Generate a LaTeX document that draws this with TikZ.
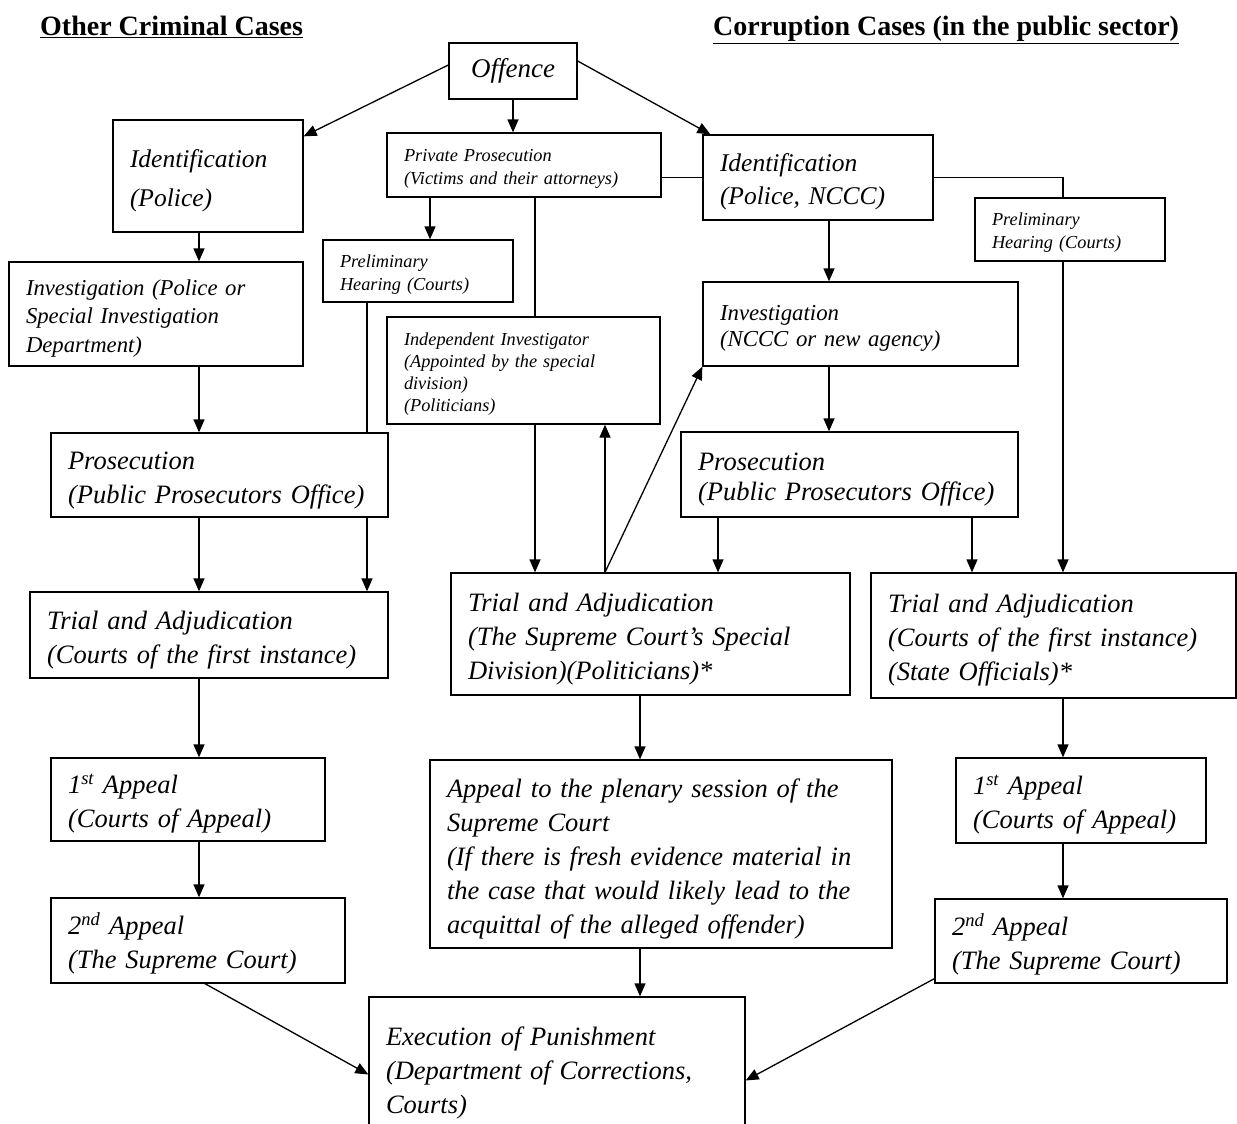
\documentclass[tikz,border=0pt]{standalone}
\usepackage{fontspec}
\setmainfont{Liberation Serif}
\usetikzlibrary{arrows.meta}
\begin{document}
\begin{tikzpicture}[x=1pt,y=-1pt,
  frame/.style={draw, line width=1.3pt, inner ysep=0pt},
  box/.style={frame, inner xsep=17pt, align=left, execute at begin node={\rule{0pt}{1.05em}}},
  arr/.style={line width=1.3pt, -{Triangle[length=13pt,width=11pt]}},
  ln/.style={line width=1.3pt},
  big/.style={font=\fontsize{26.5}{34}\selectfont\itshape},
  small/.style={font=\fontsize{18.3}{23}\selectfont\itshape},
  head/.style={font=\fontsize{28}{30}\selectfont\bfseries, anchor=base west, inner sep=0pt}
]
\useasboundingbox (0,0) rectangle (1237,1124);
\clip (0,0) rectangle (1237,1124);

% headers
\node[head] (h1) at (40,36) {\underline{Other Criminal Cases}};
\node[head] (h2) at (713,36) {\underline{Corruption Cases (in the public sector)}};

% top
\node[frame,font=\fontsize{27}{34}\selectfont\itshape,minimum width=128,minimum height=56,align=center,inner xsep=0pt] (off) at (513,71) {Offence};

% left column
\node[box,font=\fontsize{25.5}{39}\selectfont\itshape,minimum width=190,minimum height=112,text width=156] (idp) at (208,176) {Identification\\(Police)};
\node[box,font=\fontsize{22.7}{28.5}\selectfont\itshape,minimum width=294,minimum height=104,text width=260] (inv) at (156,314) {Investigation (Police or\\Special Investigation\\Department)};
\node[box,big,minimum width=337,minimum height=84,text width=303] (prl) at (219.5,475) {Prosecution\\(Public Prosecutors Office)};
\node[box,big,minimum width=358,minimum height=86,text width=324] (trl) at (209,635) {Trial and Adjudication\\(Courts of the first instance)};
\node[box,big,minimum width=274,minimum height=83,text width=240] (a1l) at (188,799.5) {1\textsuperscript{st} Appeal\\(Courts of Appeal)};
\node[box,big,minimum width=294,minimum height=85,text width=260] (a2l) at (198,940.5) {2\textsuperscript{nd} Appeal\\(The Supreme Court)};

% middle column
\node[box,small,minimum width=274,minimum height=64,text width=240] (pp) at (524,165) {Private Prosecution\\(Victims and their attorneys)};
\node[box,small,minimum width=190,minimum height=62,text width=156] (ph1) at (418,271) {Preliminary\\Hearing (Courts)};
\node[box,font=\fontsize{18.3}{22}\selectfont\itshape,minimum width=273,minimum height=107,text width=239] (ii) at (523.5,370.5) {Independent Investigator\\(Appointed by the special\\division)\\(Politicians)};
\node[box,big,minimum width=399,minimum height=122,text width=365] (trm) at (650.5,634) {Trial and Adjudication\\(The Supreme Court’s Special\\Division)(Politicians)*};
\node[box,big,minimum width=462,minimum height=188,text width=428] (apm) at (661,854) {Appeal to the plenary session of the\\Supreme Court\\(If there is fresh evidence material in\\the case that would likely lead to the\\acquittal of the alleged offender)};
\node[box,big,minimum width=376,minimum height=143,text width=342] (ex) at (557,1068.5) {Execution of Punishment\\(Department of Corrections,\\Courts)};

% right column
\node[box,font=\fontsize{25.5}{33}\selectfont\itshape,minimum width=230,minimum height=85,text width=196] (idn) at (818,177.5) {Identification\\(Police, NCCC)};
\node[box,small,minimum width=190,minimum height=63,text width=156] (ph2) at (1070,229.5) {Preliminary\\Hearing (Courts)};
\node[box,font=\fontsize{22.8}{26}\selectfont\itshape,minimum width=315,minimum height=84,text width=281] (inn) at (860.5,324) {Investigation\\(NCCC or new agency)};
\node[box,font=\fontsize{26.5}{30}\selectfont\itshape,minimum width=337,minimum height=85,text width=303] (prr) at (849.5,474.5) {Prosecution\\(Public Prosecutors Office)};
\node[box,big,minimum width=365,minimum height=125,text width=331] (trr) at (1053.5,635.5) {Trial and Adjudication\\(Courts of the first instance)\\(State Officials)*};
\node[box,big,minimum width=250,minimum height=85,text width=216] (a1r) at (1081,800.5) {1\textsuperscript{st} Appeal\\(Courts of Appeal)};
\node[box,big,minimum width=292,minimum height=84,text width=258] (a2r) at (1081,941) {2\textsuperscript{nd} Appeal\\(The Supreme Court)};

% columns
\coordinate (c1) at (199,0);
\coordinate (c2) at (367,0);
\coordinate (c3) at (430,0);
\coordinate (c4) at (535,0);
\coordinate (c5) at (605,0);
\coordinate (c6) at (640,0);
\coordinate (c7) at (718,0);
\coordinate (c8) at (829,0);
\coordinate (c9) at (972,0);
\coordinate (c10) at (1063,0);

% connectors
\draw[arr] ([yshift=6pt]off.west) -- ([yshift=-17pt]idp.north east);
\draw[arr] (off.south) -- (off.south |- pp.north);
\draw[arr] ([yshift=10pt]off.east) -- ([xshift=8pt]idn.north west);
\draw[ln] (idn.west) -- (idn.west -| pp.east);
\draw[ln] (idn.east) -| (ph2.north -| c10);
\draw[arr] (ph2.south -| c10) -- (trr.north -| c10);
\draw[arr] (idn.south -| c8) -- (inn.north -| c8);
\draw[arr] (inn.south -| c8) -- (prr.north -| c8);
\draw[arr] (prr.south -| c7) -- (trm.north -| c7);
\draw[arr] (prr.south -| c9) -- (trr.north -| c9);
\draw[arr] (pp.south -| c3) -- (ph1.north -| c3);
\draw[ln] (pp.south -| c4) -- (ii.north -| c4);
\draw[arr] (ii.south -| c4) -- (trm.north -| c4);
\draw[arr] (trm.north -| c5) -- (ii.south -| c5);
\draw[arr] (trm.north -| c5) -- (inn.south west);
\draw[ln] (ph1.south -| c2) -- (prl.north -| c2);
\draw[arr] (prl.south -| c2) -- (trl.north -| c2);
\foreach \a/\b in {idp/inv, inv/prl, prl/trl, trl/a1l, a1l/a2l}
  \draw[arr] (\a.south -| c1) -- (\b.north -| c1);
\draw[arr] ([xshift=7pt]a2l.south) -- ([yshift=-6pt]ex.west);
\draw[arr] ([yshift=5pt]a2r.south west) -- ([yshift=-12pt]ex.east);
\draw[arr] (trm.south -| c6) -- (apm.north -| c6);
\draw[arr] (apm.south -| c6) -- (ex.north -| c6);
\draw[arr] (trr.south -| c10) -- (a1r.north -| c10);
\draw[arr] (a1r.south -| c10) -- (a2r.north -| c10);
\end{tikzpicture}
\end{document}
